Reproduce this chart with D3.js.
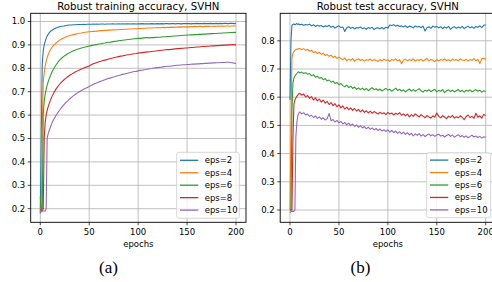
<!DOCTYPE html>
<html><head><meta charset="utf-8">
<script src="https://cdn.jsdelivr.net/npm/d3@7"></script>
<style>body{margin:0;background:#fff}svg{display:block}</style>
</head><body><svg id="c" width="492" height="282"></svg>
<script>
const epochs=[0,1,2,3,4,5,6,7,8,9,10,
12,14,16,18,20,22,24,26,28,30,
32,34,36,38,40,42,44,46,48,50,
52,54,56,58,60,62,64,66,68,70,
72,74,76,78,80,82,84,86,88,90,
92,94,96,98,100,102,104,106,108,110,
112,114,116,118,120,122,124,126,128,130,
132,134,136,138,140,142,144,146,148,150,
152,154,156,158,160,162,164,166,168,170,
172,174,176,178,180,182,184,186,188,190,
192,194,196,198,200];
const seriesLabels=["eps=2","eps=4","eps=6","eps=8","eps=10"];

const trainEps2=[0.18,0.52,0.82,0.875,0.90,0.915,0.928,0.938,0.945,0.951,0.956,
0.963,0.968,0.972,0.975,0.978,0.980,0.981,0.983,0.984,0.985,
0.985,0.986,0.986,0.987,0.987,0.987,0.988,0.987,0.988,0.988,
0.988,0.989,0.988,0.989,0.988,0.989,0.989,0.988,0.989,0.989,
0.989,0.990,0.989,0.989,0.990,0.989,0.990,0.989,0.990,0.990,
0.989,0.990,0.990,0.989,0.990,0.990,0.991,0.990,0.990,0.990,
0.990,0.991,0.990,0.990,0.991,0.990,0.991,0.990,0.991,0.991,
0.990,0.991,0.991,0.990,0.991,0.991,0.990,0.991,0.991,0.991,
0.991,0.990,0.991,0.991,0.992,0.991,0.991,0.991,0.992,0.991,
0.991,0.992,0.991,0.991,0.992,0.991,0.992,0.991,0.992,0.992,
0.991,0.992,0.992,0.991,0.992];
const trainEps4=[0.185,0.20,0.55,0.74,0.78,0.81,0.83,0.846,0.858,0.868,0.877,
0.890,0.900,0.908,0.915,0.921,0.926,0.930,0.934,0.937,0.940,
0.942,0.944,0.946,0.948,0.950,0.951,0.953,0.954,0.955,0.956,
0.957,0.958,0.958,0.959,0.960,0.961,0.961,0.962,0.962,0.963,
0.963,0.964,0.964,0.965,0.965,0.966,0.966,0.967,0.967,0.968,
0.968,0.968,0.969,0.969,0.970,0.970,0.970,0.971,0.971,0.972,
0.972,0.972,0.973,0.973,0.974,0.973,0.974,0.975,0.974,0.975,
0.975,0.976,0.975,0.976,0.976,0.977,0.976,0.977,0.977,0.978,
0.977,0.978,0.978,0.979,0.978,0.979,0.979,0.978,0.979,0.980,
0.979,0.980,0.980,0.979,0.980,0.981,0.980,0.981,0.980,0.981,
0.981,0.980,0.981,0.981,0.981];
const trainEps6=[0.25,0.19,0.20,0.60,0.66,0.69,0.71,0.728,0.742,0.754,0.764,
0.785,0.800,0.814,0.826,0.836,0.844,0.851,0.857,0.862,0.867,
0.871,0.875,0.878,0.881,0.884,0.887,0.889,0.891,0.893,0.895,
0.897,0.899,0.900,0.902,0.904,0.905,0.907,0.908,0.910,0.911,
0.912,0.914,0.915,0.916,0.918,0.919,0.920,0.921,0.922,0.923,
0.924,0.925,0.926,0.927,0.928,0.928,0.929,0.930,0.931,0.931,
0.930,0.931,0.931,0.932,0.933,0.933,0.934,0.935,0.935,0.936,
0.936,0.937,0.938,0.938,0.939,0.939,0.940,0.941,0.941,0.942,
0.942,0.943,0.943,0.944,0.944,0.945,0.945,0.946,0.946,0.947,
0.947,0.948,0.948,0.949,0.949,0.950,0.950,0.951,0.951,0.952,
0.952,0.953,0.953,0.954,0.953];
const trainEps8=[0.19,0.19,0.19,0.20,0.50,0.57,0.60,0.62,0.635,0.648,0.660,
0.680,0.697,0.711,0.723,0.733,0.742,0.750,0.757,0.764,0.770,
0.775,0.780,0.785,0.789,0.793,0.797,0.800,0.804,0.807,0.810,
0.815,0.819,0.822,0.825,0.828,0.830,0.833,0.835,0.837,0.840,
0.842,0.844,0.846,0.848,0.850,0.852,0.853,0.855,0.857,0.858,
0.859,0.861,0.862,0.863,0.865,0.866,0.867,0.868,0.869,0.870,
0.871,0.872,0.873,0.874,0.875,0.876,0.877,0.878,0.879,0.880,
0.880,0.881,0.882,0.883,0.884,0.884,0.885,0.886,0.887,0.887,
0.888,0.889,0.889,0.890,0.891,0.891,0.892,0.893,0.893,0.894,
0.894,0.895,0.896,0.896,0.897,0.897,0.898,0.898,0.899,0.899,
0.900,0.900,0.901,0.901,0.900];
const trainEps10=[0.18,0.19,0.19,0.19,0.19,0.19,0.20,0.50,0.52,0.533,0.545,
0.567,0.583,0.598,0.611,0.623,0.634,0.644,0.653,0.661,0.669,
0.676,0.683,0.689,0.695,0.700,0.705,0.710,0.714,0.718,0.722,
0.727,0.731,0.735,0.738,0.742,0.745,0.748,0.751,0.754,0.757,
0.759,0.762,0.764,0.767,0.769,0.771,0.774,0.776,0.778,0.780,
0.782,0.784,0.786,0.787,0.789,0.791,0.792,0.794,0.795,0.797,
0.798,0.799,0.801,0.802,0.803,0.804,0.805,0.807,0.808,0.809,
0.809,0.810,0.811,0.812,0.813,0.813,0.814,0.815,0.815,0.816,
0.816,0.817,0.818,0.818,0.819,0.819,0.820,0.820,0.821,0.821,
0.822,0.822,0.823,0.823,0.824,0.824,0.825,0.825,0.825,0.826,
0.826,0.825,0.824,0.822,0.821];

const testEps2=[0.59,0.80,0.855,0.858,0.860,0.857,0.859,0.861,0.858,0.860,0.857,
0.859,0.855,0.858,0.856,0.859,0.853,0.857,0.851,0.855,0.852,
0.854,0.849,0.853,0.851,0.855,0.848,0.852,0.845,0.850,0.853,
0.847,0.849,0.833,0.846,0.850,0.844,0.848,0.842,0.847,0.845,
0.849,0.843,0.846,0.841,0.847,0.844,0.848,0.840,0.845,0.846,
0.843,0.847,0.842,0.848,0.845,0.856,0.854,0.857,0.852,0.855,
0.851,0.853,0.849,0.854,0.847,0.852,0.850,0.846,0.853,0.849,
0.851,0.847,0.852,0.835,0.846,0.850,0.844,0.852,0.848,0.851,
0.846,0.850,0.843,0.849,0.845,0.851,0.841,0.847,0.850,0.844,
0.849,0.845,0.851,0.843,0.848,0.852,0.846,0.850,0.844,0.851,
0.848,0.853,0.847,0.855,0.857];
const testEps4=[0.20,0.50,0.74,0.755,0.762,0.766,0.768,0.771,0.770,0.773,0.772,
0.769,0.772,0.766,0.770,0.763,0.767,0.758,0.762,0.755,0.759,
0.752,0.756,0.748,0.751,0.745,0.749,0.741,0.746,0.738,0.742,
0.737,0.733,0.739,0.729,0.735,0.731,0.737,0.727,0.733,0.736,
0.730,0.734,0.728,0.733,0.731,0.736,0.729,0.734,0.730,0.727,
0.733,0.729,0.735,0.730,0.733,0.727,0.734,0.731,0.736,0.729,
0.733,0.719,0.731,0.735,0.729,0.734,0.730,0.736,0.728,0.733,
0.730,0.735,0.728,0.733,0.737,0.729,0.734,0.731,0.726,0.733,
0.729,0.734,0.731,0.736,0.730,0.733,0.728,0.735,0.731,0.734,
0.729,0.736,0.732,0.730,0.735,0.728,0.734,0.731,0.737,0.730,
0.734,0.719,0.736,0.738,0.735];
const testEps6=[0.20,0.20,0.55,0.65,0.668,0.675,0.680,0.684,0.688,0.690,0.686,
0.689,0.684,0.687,0.681,0.684,0.676,0.680,0.671,0.674,0.667,
0.670,0.662,0.666,0.658,0.661,0.653,0.657,0.649,0.652,0.645,
0.648,0.641,0.637,0.643,0.634,0.639,0.631,0.636,0.628,0.633,
0.627,0.632,0.625,0.631,0.623,0.629,0.634,0.626,0.630,0.624,
0.629,0.622,0.627,0.631,0.625,0.628,0.621,0.627,0.632,0.624,
0.628,0.622,0.626,0.619,0.625,0.629,0.622,0.627,0.621,0.626,
0.630,0.623,0.618,0.625,0.621,0.627,0.620,0.624,0.628,0.619,
0.624,0.621,0.627,0.616,0.623,0.626,0.620,0.625,0.619,0.623,
0.627,0.620,0.624,0.618,0.625,0.621,0.626,0.619,0.623,0.627,
0.621,0.625,0.618,0.623,0.620];
const testEps8=[0.20,0.20,0.20,0.45,0.575,0.590,0.597,0.603,0.608,0.612,0.614,
0.607,0.611,0.601,0.606,0.596,0.602,0.590,0.598,0.587,0.593,
0.583,0.590,0.579,0.585,0.574,0.581,0.570,0.577,0.566,0.573,
0.562,0.569,0.558,0.565,0.556,0.562,0.553,0.560,0.551,0.557,
0.548,0.555,0.546,0.552,0.544,0.551,0.543,0.549,0.545,0.540,
0.547,0.541,0.545,0.538,0.546,0.540,0.544,0.537,0.543,0.539,
0.545,0.536,0.541,0.534,0.540,0.530,0.538,0.532,0.541,0.535,
0.530,0.538,0.533,0.527,0.535,0.530,0.526,0.534,0.529,0.544,
0.532,0.527,0.535,0.529,0.524,0.533,0.528,0.536,0.526,0.531,
0.527,0.534,0.529,0.520,0.531,0.537,0.528,0.532,0.525,0.543,
0.529,0.534,0.526,0.539,0.535];
const testEps10=[0.19,0.195,0.195,0.195,0.195,0.20,0.46,0.51,0.535,0.543,0.548,
0.541,0.545,0.537,0.540,0.532,0.536,0.528,0.534,0.525,0.530,
0.522,0.527,0.519,0.524,0.542,0.516,0.521,0.512,0.518,0.509,
0.514,0.505,0.511,0.502,0.508,0.499,0.505,0.496,0.502,0.493,
0.499,0.491,0.496,0.488,0.494,0.486,0.491,0.484,0.489,0.482,
0.487,0.480,0.485,0.478,0.484,0.476,0.482,0.474,0.480,0.472,
0.478,0.470,0.476,0.468,0.474,0.466,0.472,0.463,0.470,0.465,
0.471,0.462,0.468,0.460,0.466,0.470,0.463,0.467,0.461,0.466,
0.469,0.462,0.465,0.459,0.464,0.468,0.461,0.466,0.458,0.463,
0.467,0.460,0.464,0.458,0.463,0.456,0.461,0.465,0.459,0.462,
0.457,0.461,0.455,0.460,0.458];

const xTicks=[0,50,100,150,200];
const yTicksTrain=[0.2,0.3,0.4,0.5,0.6,0.7,0.8,0.9,1.0];
const yTicksTest=[0.2,0.3,0.4,0.5,0.6,0.7,0.8];
const titles=["Robust training accuracy, SVHN","Robust test accuracy, SVHN"];
const xLabel="epochs";
const subLabels=["(a)","(b)"];
const colors=["#1f77b4","#ff7f0e","#2ca02c","#d62728","#9467bd"];

const svg=d3.select("#c");
const FONT="DejaVu Sans, sans-serif";

const panels=[
 {f:{l:30.7,r:246,t:13.3,b:222.3},
  x:d3.scaleLinear([0,200],[40.3,236]),
  y:d3.scaleLinear([0.2,1.0],[208.7,21.5]),
  yTicks:yTicksTrain, series:[trainEps2,trainEps4,trainEps6,trainEps8,trainEps10],
  title:titles[0], sub:subLabels[0], subX:108.5,
  leg:{l:176.7,t:152.3,w:62.6,h:66,row0:160.3}},
 {f:{l:280.2,r:495.5,t:13.3,b:222.3},
  x:d3.scaleLinear([0,200],[290,485.7]),
  y:d3.scaleLinear([0.2,0.8],[210,40.8]),
  yTicks:yTicksTest, series:[testEps2,testEps4,testEps6,testEps8,testEps10],
  title:titles[1], sub:subLabels[1], subX:360.5,
  leg:{l:426.7,t:152.7,w:64,h:65,row0:160.1}}
];

panels.forEach((p,pi)=>{
  const g=svg.append("g");
  const f=p.f;
  const cid="clip"+pi;
  svg.append("clipPath").attr("id",cid).append("rect")
    .attr("x",f.l).attr("y",f.t).attr("width",f.r-f.l).attr("height",f.b-f.t);
  // grid
  g.selectAll(".gx").data(xTicks).join("line")
    .attr("x1",d=>p.x(d)).attr("x2",d=>p.x(d)).attr("y1",f.t).attr("y2",f.b)
    .attr("stroke","#b0b0b0").attr("stroke-width",0.8);
  g.selectAll(".gy").data(p.yTicks).join("line")
    .attr("y1",d=>p.y(d)).attr("y2",d=>p.y(d)).attr("x1",f.l).attr("x2",f.r)
    .attr("stroke","#b0b0b0").attr("stroke-width",0.8);
  // lines
  const line=d3.line().x((d,i)=>p.x(epochs[i])).y(d=>p.y(d));
  const lg=g.append("g").attr("clip-path",`url(#${cid})`);
  p.series.forEach((s,si)=>{
    lg.append("path").attr("d",line(s)).attr("fill","none")
      .attr("stroke",colors[si]).attr("stroke-width",1.1).attr("stroke-linejoin","round");
  });
  // frame
  g.append("rect").attr("x",f.l).attr("y",f.t).attr("width",f.r-f.l).attr("height",f.b-f.t)
    .attr("fill","none").attr("stroke","#000").attr("stroke-width",0.9);
  // ticks
  g.selectAll(".tx").data(xTicks).join("line")
    .attr("x1",d=>p.x(d)).attr("x2",d=>p.x(d)).attr("y1",f.b).attr("y2",f.b+3)
    .attr("stroke","#000").attr("stroke-width",0.7);
  g.selectAll(".txl").data(xTicks).join("text")
    .attr("x",d=>p.x(d)).attr("y",f.b+12.3).attr("text-anchor","middle")
    .attr("font-family",FONT).attr("font-size",8.5).attr("fill","#000").text(d=>d);
  g.selectAll(".ty").data(p.yTicks).join("line")
    .attr("x1",f.l-3).attr("x2",f.l).attr("y1",d=>p.y(d)).attr("y2",d=>p.y(d))
    .attr("stroke","#000").attr("stroke-width",0.7);
  g.selectAll(".tyl").data(p.yTicks).join("text")
    .attr("x",f.l-5.5).attr("y",d=>p.y(d)).attr("dy","0.35em").attr("text-anchor","end")
    .attr("font-family",FONT).attr("font-size",8.5).attr("fill","#000").text(d=>d3.format(".1f")(d));
  // title, xlabel
  g.append("text").attr("x",(f.l+f.r)/2).attr("y",9.5).attr("text-anchor","middle")
    .attr("font-family",FONT).attr("font-size",10.2).attr("fill","#000").text(p.title);
  g.append("text").attr("x",(f.l+f.r)/2).attr("y",246.5).attr("text-anchor","middle")
    .attr("font-family",FONT).attr("font-size",8.5).attr("fill","#000").text(xLabel);
  g.append("text").attr("x",p.subX).attr("y",273).attr("text-anchor","middle")
    .attr("font-family","Liberation Serif, serif").attr("font-size",17).attr("fill","#000").text(p.sub);
  // legend
  const L=p.leg;
  g.append("rect").attr("x",L.l).attr("y",L.t).attr("width",L.w).attr("height",L.h).attr("rx",2)
    .attr("fill","#fff").attr("fill-opacity",0.8).attr("stroke","#cccccc").attr("stroke-width",0.8);
  seriesLabels.forEach((lab,si)=>{
    const yy=L.row0+si*12.45;
    g.append("line").attr("x1",L.l+3.3).attr("x2",L.l+21.6).attr("y1",yy).attr("y2",yy)
      .attr("stroke",colors[si]).attr("stroke-width",1.3);
    g.append("text").attr("x",L.l+28).attr("y",yy).attr("dy","0.35em")
      .attr("font-family",FONT).attr("font-size",8.5).attr("fill","#000").text(lab);
  });
});
</script></body></html>
